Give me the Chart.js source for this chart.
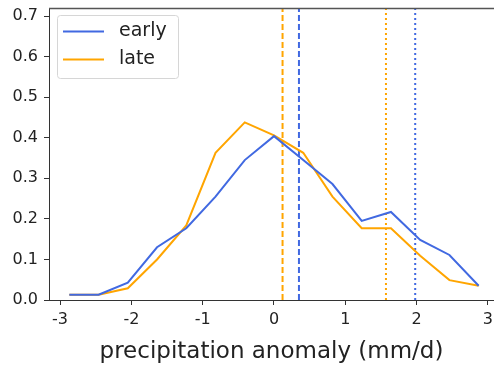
<!DOCTYPE html>
<html>
<head>
<meta charset="utf-8">
<script src="https://cdn.jsdelivr.net/npm/chart.js@4"></script>
<style>
  html, body { margin: 0; padding: 0; background: #fff; }
  #wrap { width: 494px; height: 370px; }
</style>
</head>
<body>
<div id="wrap"><canvas id="chartAnomaly" width="494" height="370"></canvas></div>
<script>
// bin centres (mm/d) and frequencies
const binCentres = [-2.87, -2.46, -2.05, -1.64, -1.23, -0.82, -0.41, 0, 0.41, 0.82, 1.23, 1.64, 2.05, 2.46, 2.87];
const earlyFreq = [0.013, 0.013, 0.043, 0.13, 0.177, 0.255, 0.345, 0.404, 0.345, 0.286, 0.195, 0.217, 0.148, 0.111, 0.035];
const lateFreq = [0.013, 0.013, 0.029, 0.10, 0.184, 0.363, 0.438, 0.406, 0.363, 0.255, 0.177, 0.177, 0.109, 0.049, 0.035];

// vertical marker lines (dashed = first value, dotted = second value)
const earlyMarks = [0.35, 1.98];
const lateMarks = [0.12, 1.57];

const xTicks = [-3, -2, -1, 0, 1, 2, 3];
const yTicks = [0, 0.1, 0.2, 0.3, 0.4, 0.5, 0.6, 0.7];
const seriesNames = ["early", "late"];

const BLUE = "#4169e1";
const ORANGE = "#ffa500";
const FONT = "'DejaVu Sans', sans-serif";
const Y_TOP = 0.72;

const toPoints = (xs, ys) => xs.map((x, i) => ({ x: x, y: ys[i] }));
const vline = (v) => [{ x: v, y: 0 }, { x: v, y: Y_TOP }];

function markLine(v, color, dash) {
  return {
    label: "",
    data: vline(v),
    borderColor: color,
    borderWidth: 2,
    borderDash: dash,
    pointRadius: 0,
    fill: false,
  };
}

// legend inside the plot, top left, matplotlib style
const insideLegend = {
  id: "insideLegend",
  afterDraw(chart) {
    const ctx = chart.ctx;
    const x0 = 57, y0 = 15, w = 121, h = 63;
    ctx.save();
    ctx.fillStyle = "rgba(255,255,255,0.8)";
    ctx.strokeStyle = "#d6d6d6";
    ctx.lineWidth = 1;
    ctx.beginPath();
    ctx.roundRect(x0 + 0.5, y0 + 0.5, w, h, 3);
    ctx.fill();
    ctx.stroke();
    const rows = [31.5, 59.5];
    [0, 1].forEach((i) => {
      const ds = chart.data.datasets[i];
      ctx.strokeStyle = ds.borderColor;
      ctx.lineWidth = 2;
      ctx.beginPath();
      ctx.moveTo(63, rows[i]);
      ctx.lineTo(104, rows[i]);
      ctx.stroke();
      ctx.fillStyle = "#222";
      ctx.font = "19px " + FONT;
      ctx.textBaseline = "middle";
      ctx.fillText(ds.label, 119, rows[i]);
    });
    ctx.restore();
  },
};

// top spine (right one is off the picture)
const topSpine = {
  id: "topSpine",
  afterDraw(chart) {
    const a = chart.chartArea, ctx = chart.ctx;
    ctx.save();
    ctx.strokeStyle = "#555";
    ctx.lineWidth = 1.5;
    ctx.beginPath();
    ctx.moveTo(a.left, a.top + 0.5);
    ctx.lineTo(chart.width, a.top + 0.5);
    ctx.stroke();
    ctx.restore();
  },
};

const ctx = document.getElementById("chartAnomaly").getContext("2d");
new Chart(ctx, {
  type: "line",
  data: {
    datasets: [
      {
        label: seriesNames[0],
        data: toPoints(binCentres, earlyFreq),
        borderColor: BLUE,
        borderWidth: 2,
        pointRadius: 0,
        tension: 0,
        fill: false,
      },
      {
        label: seriesNames[1],
        data: toPoints(binCentres, lateFreq),
        borderColor: ORANGE,
        borderWidth: 2,
        pointRadius: 0,
        tension: 0,
        fill: false,
      },
      markLine(lateMarks[0], ORANGE, [6, 3]),
      markLine(earlyMarks[0], BLUE, [6, 3]),
      markLine(lateMarks[1], ORANGE, [2, 3]),
      markLine(earlyMarks[1], BLUE, [2, 3]),
    ],
  },
  options: {
    responsive: false,
    animation: false,
    layout: { padding: { top: 8, right: 0, left: 0, bottom: 0 } },
    plugins: { legend: { display: false }, tooltip: { enabled: false } },
    scales: {
      x: {
        type: "linear",
        min: -3.155,
        max: 3.085,
        afterBuildTicks: (s) => { s.ticks = xTicks.map((v) => ({ value: v })); },
        afterFit: (s) => { s.height = 70; s.paddingLeft = 0; s.paddingRight = 0; },
        ticks: { font: { family: FONT, size: 16 }, color: "#222", padding: 5 },
        grid: { drawOnChartArea: false, tickLength: 5, color: "#333" },
        border: { color: "#333", width: 1 },
        title: {
          display: true,
          text: "precipitation anomaly (mm/d)",
          font: { family: FONT, size: 23 },
          color: "#222",
          padding: { top: 0, bottom: 4 },
        },
      },
      y: {
        min: 0,
        max: Y_TOP,
        afterBuildTicks: (s) => { s.ticks = yTicks.map((v) => ({ value: v })); },
        afterFit: (s) => { s.width = 49; s.paddingTop = 0; s.paddingBottom = 0; },
        ticks: {
          font: { family: FONT, size: 16 },
          color: "#222",
          padding: 6,
          callback: (v) => Number(v).toFixed(1),
        },
        grid: { drawOnChartArea: false, tickLength: 5, color: "#333" },
        border: { color: "#333", width: 1 },
      },
    },
  },
  plugins: [insideLegend, topSpine],
});
</script>
</body>
</html>
